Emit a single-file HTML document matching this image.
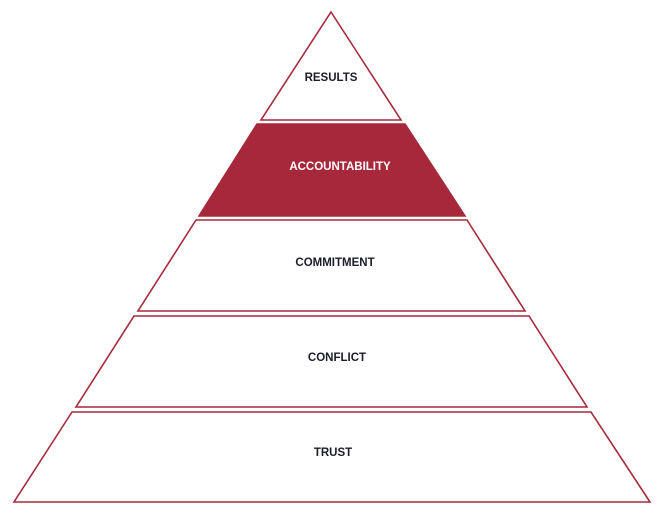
<!DOCTYPE html>
<html><head><meta charset="utf-8"><style>
html,body{margin:0;padding:0;background:#fff;}
svg{display:block;}
text{font-family:"Liberation Sans",sans-serif;font-weight:bold;font-size:11.5px;text-anchor:middle;fill:#1c1c2b;}
</style></head><body>
<svg width="666" height="517" viewBox="0 0 666 517" xmlns="http://www.w3.org/2000/svg">
<g fill="none" stroke="#a52a3c" stroke-width="1.6" stroke-linejoin="miter">
<polygon points="331,12 401,120 261,120"/>
<polygon points="257,124 405,124 465,216 199,216" fill="#a8283b"/>
<polygon points="196,220 467,220 525,311 138,311"/>
<polygon points="134,316 529,316 587,407 76,407"/>
<polygon points="72,412 591,412 650,502 14,502"/>
</g>
<text x="331" y="81">RESULTS</text>
<text x="340" y="170" style="fill:#fff">ACCOUNTABILITY</text>
<text x="335" y="266">COMMITMENT</text>
<text x="337" y="361">CONFLICT</text>
<text x="333" y="456">TRUST</text>
</svg>
</body></html>
